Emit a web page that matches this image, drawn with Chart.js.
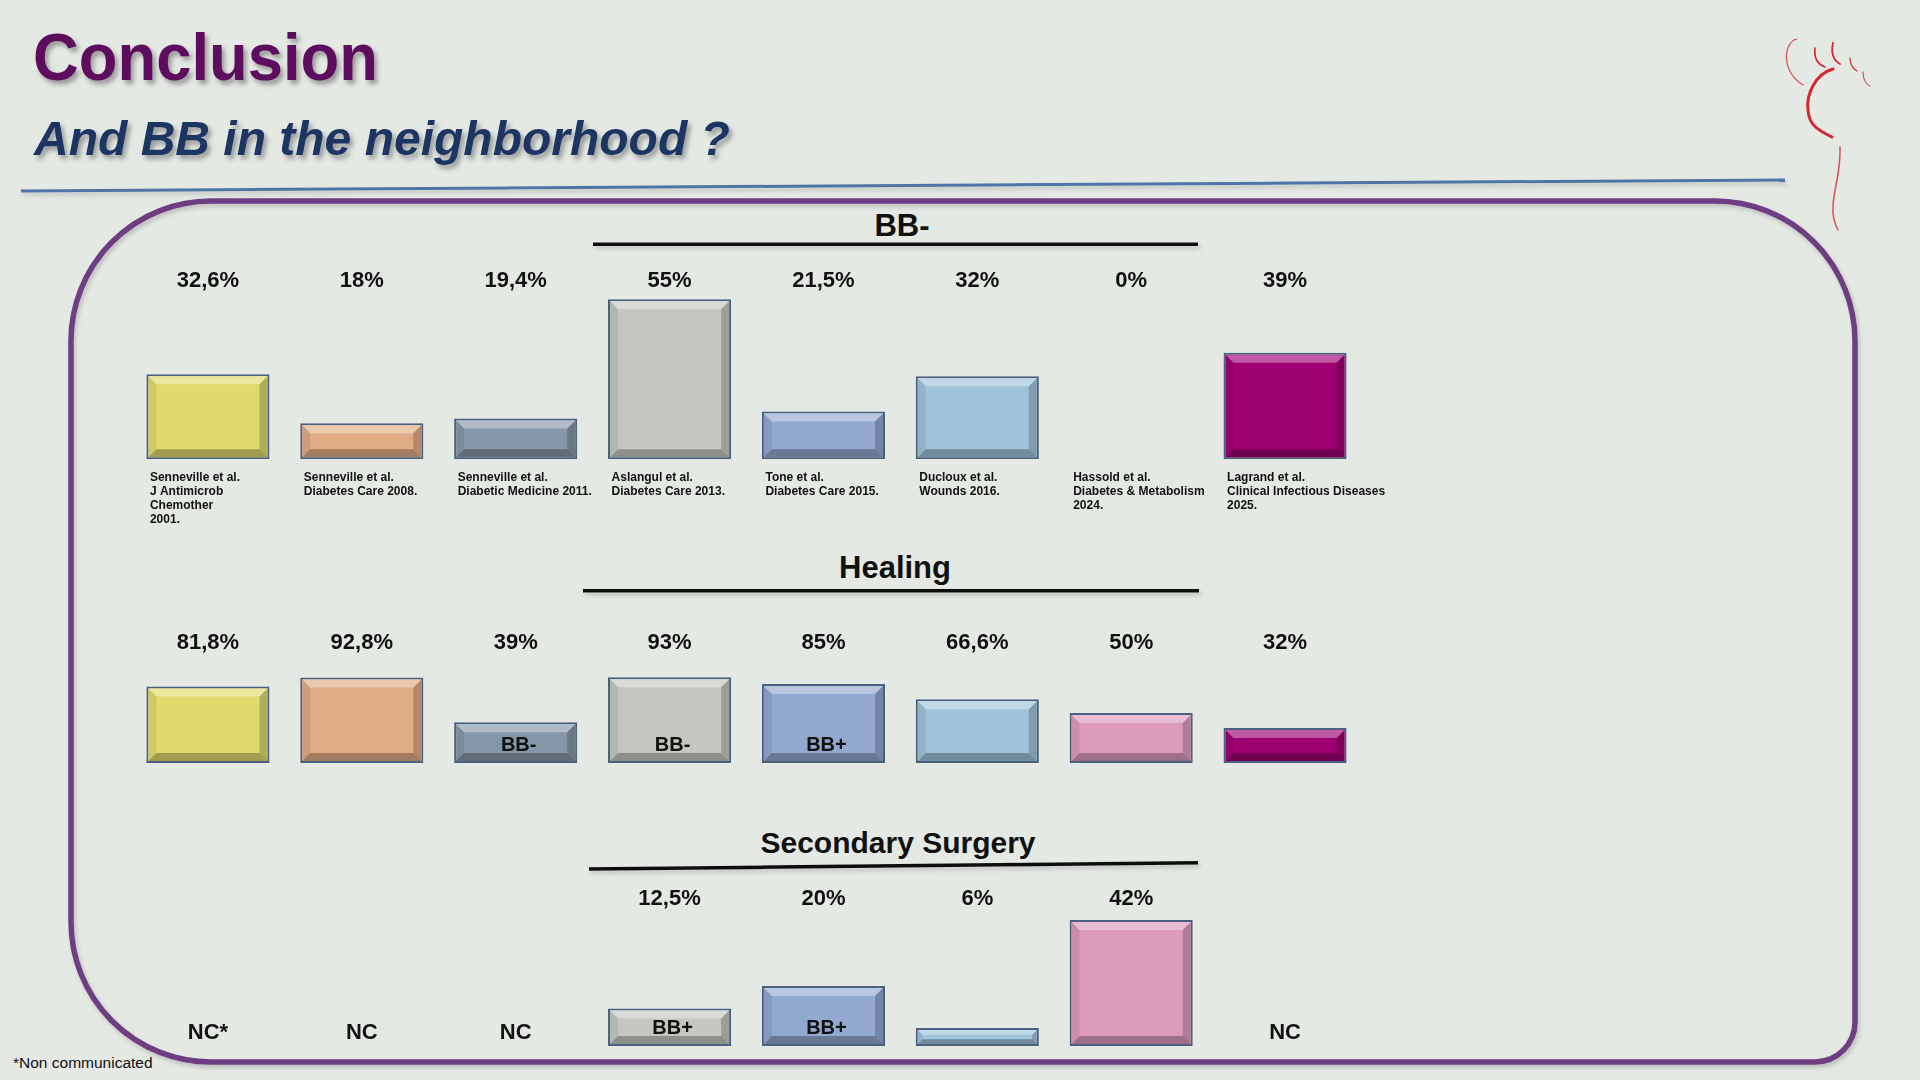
<!DOCTYPE html>
<html>
<head>
<meta charset="utf-8">
<script src="https://cdn.jsdelivr.net/npm/chart.js@4.4.1/dist/chart.umd.min.js"></script>
<style>
    html, body { margin: 0; padding: 0; }
    body {
        width: 1920px; height: 1080px; position: relative; overflow: hidden;
        background: #e5e9e4;
        font-family: "Liberation Sans", Arial, sans-serif;
    }
    #deco { position: absolute; left: 0; top: 0; font-family: "Liberation Sans", Arial, sans-serif; }
    canvas { position: absolute; }
</style>
</head>
<body>
<svg id="deco" width="1920" height="1080">
    <defs>
        <filter id="tshadow" x="-10%" y="-30%" width="130%" height="170%">
            <feDropShadow dx="3" dy="4" stdDeviation="2.5" flood-color="#000" flood-opacity="0.35"/>
        </filter>
        <filter id="lshadow" filterUnits="userSpaceOnUse" x="0" y="0" width="1920" height="1080">
            <feDropShadow dx="2" dy="3" stdDeviation="2" flood-color="#000" flood-opacity="0.18"/>
        </filter>
    </defs>

    <!-- titre -->
    <text x="33" y="80" font-size="66" font-weight="bold" fill="#5c0b5d" filter="url(#tshadow)"
          textLength="345" lengthAdjust="spacingAndGlyphs">Conclusion</text>
    <text x="34" y="155" font-size="48" font-weight="bold" font-style="italic" fill="#1c3462" filter="url(#tshadow)">And BB in the neighborhood ?</text>
    <line x1="21" y1="191" x2="1785" y2="180" stroke="#4f74a8" stroke-width="3" filter="url(#lshadow)"/>

    <!-- cadre arrondi -->
    <path d="M211,201 H1715 A140,140 0 0 1 1855,341 V1022 A40,40 0 0 1 1815,1062 H211 A140,140 0 0 1 71,922 V341 A140,140 0 0 1 211,201 Z"
          fill="none" stroke="#6e3e82" stroke-width="5.5" filter="url(#lshadow)"/>

    <!-- titres des sections -->
    <text x="902" y="236" text-anchor="middle" font-size="31" font-weight="bold" fill="#111">BB-</text>
    <line x1="593" y1="244.3" x2="1198" y2="244.3" stroke="#111" stroke-width="3.5" filter="url(#lshadow)"/>
    <text x="895" y="577.5" text-anchor="middle" font-size="31" font-weight="bold" fill="#111">Healing</text>
    <line x1="583" y1="590.7" x2="1199" y2="590.7" stroke="#111" stroke-width="3.5" filter="url(#lshadow)"/>
    <text x="898" y="853.3" text-anchor="middle" font-size="30" font-weight="bold" fill="#111">Secondary Surgery</text>
    <line x1="589" y1="869" x2="1198" y2="862.7" stroke="#111" stroke-width="3.5" filter="url(#lshadow)"/>

    <!-- logo pied -->
    <g fill="none" stroke="#d6262d" stroke-linecap="round">
        <path d="M1797,39 C1783,42 1781,72 1803,85" stroke-width="1.2" opacity="0.8"/>
        <path d="M1815,48 C1814,57 1817,64 1825,67" stroke-width="1.6"/>
        <path d="M1833,43 C1831,52 1833,60 1840,64" stroke-width="1.8"/>
        <path d="M1850,58 C1850,64 1852,68 1857,71" stroke-width="1.2"/>
        <path d="M1863,72 C1863,78 1865,84 1870,86" stroke-width="1"/>
        <path d="M1833,69 C1815,74 1806,95 1808,110 C1809,122 1813,128 1832,137" stroke-width="3"/>
        <path d="M1840,147 C1841,170 1834,190 1833,205 C1832,215 1835,225 1838,230" stroke-width="1.6" opacity="0.75"/>
    </g>

    <text x="13" y="1067.5" font-size="15.5" fill="#111">*Non communicated</text>
</svg>

<canvas id="chartBB" width="1351" height="273" style="left:131px;top:265px"></canvas>
<canvas id="chartHealing" width="1351" height="141" style="left:131px;top:626px"></canvas>
<canvas id="chartSurgery" width="1351" height="168" style="left:131px;top:882px"></canvas>

<script>
// Données
const studies = [
    ['Senneville et al.', 'J Antimicrob', 'Chemother', '2001.'],
    ['Senneville et al.', 'Diabetes Care 2008.'],
    ['Senneville et al.', 'Diabetic Medicine 2011.'],
    ['Aslangul et al.', 'Diabetes Care 2013.'],
    ['Tone et al.', 'Diabetes Care 2015.'],
    ['Ducloux et al.', 'Wounds 2016.'],
    ['Hassold et al.', 'Diabetes & Metabolism', '2024.'],
    ['Lagrand et al.', 'Clinical Infectious Diseases', '2025.']
];
const colors = ['#e0d96e', '#e0ac85', '#8597a8', '#c4c7c0', '#92a8cf', '#a0c3da', '#dc9abd', '#9e0072'];

const bbNegValues = [32.6, 18, 19.4, 55, 21.5, 32, 0, 39];
const healingValues = [81.8, 92.8, 39, 93, 85, 66.6, 50, 32];
const healingBB = [null, null, 'BB-', 'BB-', 'BB+', null, null, null];
const surgeryValues = [null, null, null, 12.5, 20, 6, 42, null];
const surgeryBB = [null, null, null, 'BB+', 'BB+', null, null, null];
const surgeryNC = ['NC*', 'NC', 'NC', null, null, null, null, 'NC'];

const FONT = '"Liberation Sans", Arial, sans-serif';
Chart.defaults.font.family = FONT;
Chart.defaults.color = '#111';

// 32.6 -> "32,6%"
function pct(v) {
    return v == null ? '' : String(v).replace('.', ',') + '%';
}

function poly(ctx, pts, fill) {
    ctx.beginPath();
    ctx.moveTo(pts[0][0], pts[0][1]);
    for (let i = 1; i < pts.length; i++) ctx.lineTo(pts[i][0], pts[i][1]);
    ctx.closePath();
    ctx.fillStyle = fill;
    ctx.fill();
}

// effet biseauté sur les barres
const bevelPlugin = {
    id: 'bevel',
    afterDatasetsDraw(chart) {
        const ctx = chart.ctx;
        const area = chart.chartArea;
        const values = chart.data.datasets[0].data;
        chart.getDatasetMeta(0).data.forEach((bar, i) => {
            const {x, y, base, width} = bar.getProps(['x', 'y', 'base', 'width'], true);
            if (values[i] == null || y >= base - 1) return;
            const L = x - width / 2 + 2, R = x + width / 2 - 2;
            const T = y + 2, B = Math.min(base, area.bottom) - 2;
            const b = Math.min(8, (B - T) / 3);
            ctx.save();
            poly(ctx, [[L, T], [R, T], [R - b, T + b], [L + b, T + b]], 'rgba(255,255,255,0.35)');
            poly(ctx, [[L, B], [R, B], [R - b, B - b], [L + b, B - b]], 'rgba(0,0,0,0.28)');
            poly(ctx, [[R, T], [R, B], [R - b, B - b], [R - b, T + b]], 'rgba(0,0,0,0.2)');
            poly(ctx, [[L, T], [L, B], [L + b, B - b], [L + b, T + b]], 'rgba(0,0,0,0.08)');
            ctx.restore();
        });
    }
};

// textes BB+/BB- dans les barres et NC
function textPlugin(inner, nc) {
    return {
        id: 'barText',
        afterDatasetsDraw(chart) {
            const ctx = chart.ctx;
            const area = chart.chartArea;
            const xs = chart.scales.x;
            ctx.save();
            ctx.fillStyle = '#111';
            ctx.textAlign = 'center';
            ctx.textBaseline = 'middle';
            ctx.font = 'bold 20px ' + FONT;
            (inner || []).forEach((t, i) => {
                if (t) ctx.fillText(t, xs.getPixelForValue(i) + 3, area.bottom - 18);
            });
            ctx.font = 'bold 22px ' + FONT;
            (nc || []).forEach((t, i) => {
                if (t) ctx.fillText(t, xs.getPixelForValue(i), area.bottom - 13);
            });
            ctx.restore();
        }
    };
}

function makeChart(id, values, opts) {
    return new Chart(document.getElementById(id), {
        type: 'bar',
        data: {
            labels: studies,
            datasets: [{
                data: values,
                backgroundColor: colors,
                // pas de bordure pour une barre vide (0%)
                borderColor: c => (c.raw == null || c.raw <= opts.min) ? 'rgba(0,0,0,0)' : '#4b5f7f',
                borderWidth: 2,
                borderSkipped: false,
                base: opts.min,
                categoryPercentage: 1,
                barPercentage: 0.8
            }]
        },
        options: {
            responsive: false,
            animation: false,
            events: [],
            layout: { padding: { right: 120, bottom: opts.padBottom || 0 } },
            plugins: { legend: { display: false }, tooltip: { enabled: false } },
            scales: {
                x: {
                    display: !!opts.showStudies,
                    offset: true,
                    grid: { display: false, drawTicks: false },
                    border: { display: false },
                    ticks: {
                        font: { size: 12, weight: 'bold', lineHeight: 14 / 12 },
                        color: '#111',
                        padding: 11.4,
                        align: 'start',
                        labelOffset: -58,
                        maxRotation: 0,
                        minRotation: 0,
                        autoSkip: false
                    }
                },
                top: {
                    type: 'category',
                    position: 'top',
                    labels: values.map(pct),
                    offset: true,
                    grid: { display: false, drawTicks: false },
                    border: { display: false },
                    ticks: {
                        font: { size: 22, weight: 'bold' },
                        color: '#111',
                        padding: opts.topPad || 4,
                        maxRotation: 0,
                        autoSkip: false
                    }
                },
                y: { display: false, min: opts.min, max: opts.max }
            }
        },
        plugins: [bevelPlugin, textPlugin(opts.inner, opts.nc)]
    });
}

makeChart('chartBB', bbNegValues, { min: 7.25, max: 55.55, showStudies: true, topPad: 3 });
makeChart('chartHealing', healingValues, { min: -10, max: 113.2, padBottom: 4, inner: healingBB });
makeChart('chartSurgery', surgeryValues, { min: 0, max: 43.2, padBottom: 4, inner: surgeryBB, nc: surgeryNC });
</script>
</body>
</html>
